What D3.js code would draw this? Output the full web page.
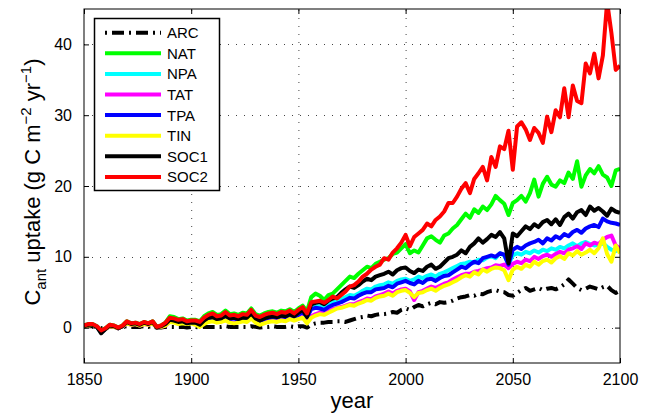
<!DOCTYPE html>
<html>
  <head>
    <meta charset="utf-8"/>
    <style>
    body {
      font-family: "Liberation Sans", Arial, sans-serif;
      margin: 0;
      background: #fff;
    }
    </style>
  </head>
  <body>
    <script src="https://d3js.org/d3.v7.min.js"></script>
    <script>
    var width = 650, height = 415;
    var margin = {top: 9, right: 30, bottom: 52, left: 84};

    // data, one value every 2 years
    var years = d3.range(1850, 2101, 2);
    var xTicks = [1850, 1900, 1950, 2000, 2050, 2100];
    var yTicks = [0, 10, 20, 30, 40];

    var arc = [0.1,0.2,0.2,0.1,-0.1,0.0,0.1,0.1,0.0,0.1,
      0.2,0.1,0.1,0.1,0.2,0.1,0.2,0.0,0.0,0.1,
      0.1,0.1,0.1,0.1,0.0,0.1,0.1,0.0,0.1,0.1,
      0.1,0.1,0.1,0.2,0.1,0.1,0.1,0.1,0.1,0.2,
      0.1,0.0,0.1,0.1,0.2,0.1,0.1,0.1,0.2,0.1,
      0.2,0.2,0.0,0.4,0.6,0.7,0.7,0.8,0.8,0.9,
      0.9,0.8,1.0,1.2,1.4,1.5,1.7,1.6,1.8,1.9,
      1.9,2.0,2.2,2.1,2.5,2.7,2.5,2.9,3.2,3.0,
      3.3,3.5,3.3,3.6,3.5,3.6,3.8,4.1,4.3,4.4,
      4.6,4.5,4.8,4.7,5.0,5.2,5.3,5.1,5.0,4.6,
      4.5,4.9,5.3,5.6,5.2,5.4,5.6,5.3,5.5,5.6,
      5.4,5.7,6.1,6.8,6.2,5.6,5.3,5.5,5.8,5.6,
      5.4,5.7,5.9,5.3,4.9,5.2];

    var nat = [0.3,0.5,0.5,0.2,-0.4,-0.1,0.4,0.3,0.0,0.3,
      0.9,0.6,0.7,0.5,0.8,0.6,0.9,0.1,0.3,0.7,
      1.6,1.5,1.2,1.3,1.0,1.1,1.1,0.9,1.6,2.0,
      2.2,1.8,1.9,2.4,1.9,2.0,1.8,2.1,2.0,2.7,
      1.9,1.7,2.0,2.2,2.3,2.1,2.4,2.3,2.6,2.2,
      2.7,3.1,2.3,4.3,4.8,4.5,3.9,4.6,4.8,5.4,
      6.0,6.6,7.2,7.0,7.6,8.1,8.6,8.4,9.0,9.3,
      9.6,9.8,10.4,10.6,11.2,11.8,10.5,10.9,10.6,11.6,
      12.6,12.9,12.4,12.0,13.0,13.3,14.0,14.5,15.3,16.1,
      15.5,16.7,16.2,17.1,16.6,17.4,18.6,18.0,17.5,15.9,
      17.6,18.0,18.6,17.8,19.0,20.9,18.5,20.3,21.3,20.2,
      19.9,20.8,20.4,21.9,21.0,23.5,19.9,21.5,22.4,21.8,
      22.8,21.6,21.2,20.0,22.2,22.4];

    var npa = [0.2,0.4,0.4,0.1,-0.6,-0.2,0.3,0.2,-0.1,0.2,
      0.8,0.5,0.6,0.4,0.7,0.5,0.8,0.0,0.2,0.5,
      1.0,0.9,0.7,0.8,0.6,0.7,0.6,0.4,0.9,1.3,
      1.4,1.1,1.2,1.6,1.2,1.3,1.1,1.3,1.3,1.8,
      1.2,0.9,1.2,1.4,1.5,1.4,1.6,1.5,1.8,1.5,
      1.9,2.3,1.5,2.8,3.1,3.0,2.8,3.2,3.5,3.8,
      4.0,4.3,4.6,4.5,4.8,5.2,5.5,5.4,5.8,6.0,
      6.1,6.4,6.2,6.6,6.8,6.9,6.6,6.8,7.2,7.0,
      7.3,7.5,7.2,7.6,7.8,8.1,8.4,8.7,9.0,9.1,
      9.3,9.2,9.6,9.5,9.9,10.1,9.8,10.5,10.2,8.9,
      10.2,10.5,10.3,10.7,10.5,10.9,10.6,11.0,10.8,11.2,
      11.0,11.4,11.2,11.6,11.9,11.5,11.9,12.1,11.8,11.6,
      11.7,11.9,11.4,11.0,10.8,11.2];

    var tat = [0.2,0.3,0.4,0.1,-0.5,-0.2,0.2,0.1,-0.1,0.2,
      0.6,0.4,0.5,0.3,0.5,0.4,0.6,0.0,0.1,0.3,
      0.9,0.8,0.6,0.7,0.6,0.7,0.5,0.2,0.6,0.9,
      1.0,0.8,0.9,1.1,0.8,0.7,0.8,1.0,0.9,1.4,
      0.8,0.5,0.7,0.9,1.0,0.9,1.1,1.0,1.3,1.1,
      1.3,1.5,0.8,1.6,1.9,2.1,2.0,2.3,2.6,2.8,
      2.9,3.1,3.3,3.3,3.6,3.8,4.1,4.0,4.4,4.6,
      4.8,5.1,4.8,5.2,5.4,5.5,5.1,3.9,5.0,5.2,
      5.5,5.8,5.6,5.9,6.2,6.4,6.8,7.1,7.4,7.6,
      7.6,7.9,8.0,8.2,8.4,8.5,8.8,8.7,8.9,8.4,
      9.0,9.3,9.1,9.6,9.4,10.0,9.7,10.1,10.3,10.0,
      10.4,10.7,10.5,11.0,11.2,11.5,11.1,11.9,11.6,12.0,
      11.8,12.4,12.8,13.0,11.6,11.2];

    var tpa = [0.2,0.4,0.4,0.1,-0.6,-0.2,0.3,0.2,-0.1,0.2,
      0.8,0.5,0.6,0.4,0.7,0.5,0.8,0.0,0.2,0.5,
      1.0,0.9,0.7,0.8,0.6,0.7,0.6,0.4,0.9,1.3,
      1.4,1.1,1.2,1.6,1.2,1.3,1.1,1.3,1.3,1.8,
      1.2,0.9,1.2,1.4,1.5,1.4,1.6,1.5,1.8,1.5,
      1.8,2.2,1.4,2.6,2.8,2.7,2.5,2.9,3.2,3.4,
      3.6,3.9,4.2,4.1,4.5,4.8,5.0,5.0,5.4,5.5,
      5.6,5.9,5.7,6.2,6.4,6.6,6.3,6.1,6.6,6.3,
      6.8,6.9,6.6,7.0,7.3,7.4,7.8,8.2,8.6,8.4,
      8.9,9.3,9.1,9.8,10.0,10.2,10.0,10.5,10.3,8.9,
      11.0,11.4,11.1,11.6,11.9,12.1,12.4,11.9,12.6,12.3,
      12.9,12.6,13.2,12.9,13.5,13.8,13.4,14.0,14.3,14.5,
      14.2,15.4,15.0,14.8,14.7,14.5];

    var tin = [0.2,0.3,0.4,0.1,-0.5,-0.2,0.2,0.1,-0.1,0.2,
      0.6,0.4,0.5,0.3,0.5,0.4,0.6,0.0,0.1,0.3,
      0.8,0.7,0.5,0.6,0.5,0.6,0.4,0.1,0.5,0.8,
      0.9,0.7,0.8,1.0,0.7,0.6,0.7,0.9,0.8,1.3,
      0.7,0.4,0.6,0.8,0.9,0.8,1.0,0.9,1.2,1.0,
      1.2,1.4,0.6,1.4,1.7,1.9,1.8,2.1,2.4,2.7,
      2.8,3.0,3.2,3.1,3.4,3.6,3.9,3.8,4.2,4.4,
      4.5,4.8,4.5,5.0,5.2,5.3,4.9,4.3,4.9,5.0,
      5.3,5.5,5.2,5.6,5.9,6.1,6.4,6.7,7.1,7.4,
      7.2,7.8,7.5,8.2,7.9,8.3,8.5,8.4,8.1,6.7,
      8.2,8.6,8.3,8.9,8.6,9.3,8.9,9.4,9.6,9.2,
      9.8,10.1,9.7,10.5,10.2,10.8,10.3,10.6,11.0,10.5,
      11.2,12.6,10.4,9.3,11.6,10.5];

    var soc1 = [0.2,0.4,0.4,0.1,-0.8,-0.2,0.3,0.2,-0.1,0.2,
      0.8,0.5,0.6,0.4,0.7,0.5,0.8,0.0,0.2,0.5,
      1.1,1.0,0.8,0.9,0.6,0.7,0.7,0.4,1.0,1.4,
      1.5,1.2,1.3,1.7,1.3,1.4,1.2,1.4,1.4,2.0,
      1.3,1.0,1.3,1.5,1.6,1.5,1.7,1.6,1.9,1.6,
      2.1,2.5,1.5,3.3,3.5,3.6,3.3,3.8,4.1,4.3,
      4.9,5.4,5.8,5.6,6.0,6.5,6.9,6.7,7.2,7.4,
      7.6,7.9,7.5,8.1,8.4,8.5,8.0,7.7,8.2,8.0,
      8.6,8.9,8.3,8.6,9.2,9.8,10.0,10.3,10.9,10.5,
      11.4,11.9,12.6,12.0,12.5,13.1,12.8,13.5,12.6,9.1,
      13.3,12.9,13.6,14.3,13.9,14.6,14.2,14.9,15.2,14.6,
      15.3,14.5,15.6,16.1,15.4,16.3,16.6,15.9,17.1,16.5,
      16.9,16.4,15.8,16.8,16.4,16.2];

    var soc2 = [0.3,0.5,0.5,0.2,-0.4,-0.1,0.4,0.3,0.0,0.3,
      0.9,0.6,0.7,0.5,0.8,0.6,0.9,0.1,0.3,0.7,
      1.4,1.3,1.1,1.2,0.9,1.0,1.0,0.8,1.4,1.8,
      2.0,1.6,1.7,2.2,1.7,1.8,1.6,1.9,1.8,2.5,
      1.7,1.5,1.8,2.0,2.1,1.9,2.2,2.1,2.4,2.0,
      2.5,2.9,2.0,3.6,3.7,3.8,3.5,3.9,4.4,4.1,
      4.6,5.1,5.8,6.0,6.5,7.2,7.6,8.2,8.6,8.9,
      9.8,9.6,10.6,11.2,12.0,13.1,11.5,12.8,13.3,13.8,
      14.7,14.3,15.2,15.7,16.4,17.6,17.6,18.5,19.6,20.4,
      19.0,21.0,21.8,22.7,20.8,24.1,22.7,25.6,25.2,27.8,
      22.3,28.4,29.0,28.0,26.5,28.2,27.5,26.1,29.8,27.6,
      30.7,29.7,33.8,29.7,34.2,32.0,31.7,37.3,35.9,38.7,
      35.2,38.4,46.0,41.6,36.4,37.0];

    var names = ["ARC", "NAT", "NPA", "TAT", "TPA", "TIN", "SOC1", "SOC2"];
    var colors = ["#000000", "#00ff00", "#00ffff", "#ff00ff", "#0000ff", "#ffff00", "#000000", "#ff0000"];
    var values = [arc, nat, npa, tat, tpa, tin, soc1, soc2];

    var series = names.map(function(n, i){
      return {name: n, color: colors[i], dashed: n == "ARC", values: values[i]};
    });

    var svg = d3.select("body").append("svg")
        .attr("width", width)
        .attr("height", height);

    var x = d3.scaleLinear().domain([1850, 2100]).range([margin.left, width - margin.right]);
    var y = d3.scaleLinear().domain([-5, 45]).range([height - margin.bottom, margin.top]);

    svg.append("defs").append("clipPath").attr("id", "clip")
      .append("rect")
        .attr("x", x.range()[0]).attr("y", y.range()[1])
        .attr("width", x.range()[1] - x.range()[0])
        .attr("height", y.range()[0] - y.range()[1]);

    // dotted grid
    var grid = svg.append("g").attr("stroke", "#444").attr("stroke-width", 1)
        .attr("stroke-dasharray", "1,7");
    grid.selectAll(".gx").data(xTicks.slice(1, -1)).enter().append("line")
        .attr("x1", function(d){ return x(d) + 0.5; }).attr("x2", function(d){ return x(d) + 0.5; })
        .attr("y1", y(-5)).attr("y2", y(45));
    grid.selectAll(".gy").data(yTicks).enter().append("line")
        .attr("y1", function(d){ return Math.round(y(d)) + 0.5; }).attr("y2", function(d){ return Math.round(y(d)) + 0.5; })
        .attr("x1", x(1850)).attr("x2", x(2100));

    // lines
    var line = d3.line()
        .x(function(d, i){ return x(years[i]); })
        .y(function(d){ return y(d); });

    var g = svg.append("g").attr("clip-path", "url(#clip)");
    g.selectAll(".series").data(series).enter().append("path")
        .attr("class", "series")
        .attr("d", function(d){ return line(d.values); })
        .attr("fill", "none")
        .attr("stroke", function(d){ return d.color; })
        .attr("stroke-width", 4)
        .attr("stroke-linejoin", "round")
        .attr("stroke-dasharray", function(d){ return d.dashed ? "12,5,2,5" : null; });

    // axes, ticks pointing inward like matlab
    var axisStyle = function(sel){
      sel.select(".domain").remove();
      sel.selectAll("text").attr("font-size", 16).attr("fill", "#000")
        .attr("font-family", "'Liberation Sans', Arial, sans-serif");
      sel.selectAll(".tick line").attr("stroke", "#000");
    };
    svg.append("g").attr("transform", "translate(0," + y(-5) + ")")
        .call(d3.axisBottom(x).tickValues(xTicks).tickFormat(d3.format("d")).tickSize(-5).tickPadding(11))
        .call(axisStyle);
    svg.append("g").attr("transform", "translate(0," + y(45) + ")")
        .call(d3.axisTop(x).tickValues(xTicks).tickFormat("").tickSize(-5))
        .call(axisStyle);
    svg.append("g").attr("transform", "translate(" + x(1850) + ",0)")
        .call(d3.axisLeft(y).tickValues(yTicks).tickSize(-5).tickPadding(12))
        .call(axisStyle);
    svg.append("g").attr("transform", "translate(" + x(2100) + ",0)")
        .call(d3.axisRight(y).tickValues(yTicks).tickFormat("").tickSize(-5))
        .call(axisStyle);

    svg.append("rect")
        .attr("x", x(1850)).attr("y", y(45))
        .attr("width", x(2100) - x(1850)).attr("height", y(-5) - y(45))
        .attr("fill", "none").attr("stroke", "#000").attr("stroke-width", 1);

    // axis labels
    svg.append("text")
        .attr("x", (x(1850) + x(2100)) / 2).attr("y", 408)
        .attr("text-anchor", "middle").attr("font-size", 22)
        .text("year");

    var ylab = svg.append("text")
        .attr("transform", "translate(40," + ((y(-5) + y(45)) / 2 - 4) + ") rotate(-90)")
        .attr("text-anchor", "middle").attr("font-size", 22);
    ylab.append("tspan").text("C");
    ylab.append("tspan").attr("font-size", 15).attr("dy", 6).text("ant");
    ylab.append("tspan").attr("dy", -6).text(" uptake (g C m");
    ylab.append("tspan").attr("font-size", 15).attr("dy", -9).text("\u22122");
    ylab.append("tspan").attr("dy", 9).text(" yr");
    ylab.append("tspan").attr("font-size", 15).attr("dy", -9).text("\u22121");
    ylab.append("tspan").attr("dy", 9).text(")");

    // legend
    var legend = svg.append("g");
    legend.append("rect")
        .attr("x", 94.5).attr("y", 18.5).attr("width", 125).attr("height", 172)
        .attr("fill", "#fff").attr("stroke", "#000").attr("stroke-width", 1.5);
    var item = legend.selectAll(".item").data(series).enter().append("g")
        .attr("transform", function(d, i){ return "translate(0," + (32.7 + i * 20.6) + ")"; });
    item.append("line")
        .attr("x1", 105).attr("x2", 161)
        .attr("stroke", function(d){ return d.color; })
        .attr("stroke-width", 4)
        .attr("stroke-dasharray", function(d){ return d.dashed ? "2,5,12,5" : null; });
    item.append("text")
        .attr("x", 167).attr("dy", "0.36em").attr("font-size", 15)
        .text(function(d){ return d.name; });
    </script>
  </body>
</html>
